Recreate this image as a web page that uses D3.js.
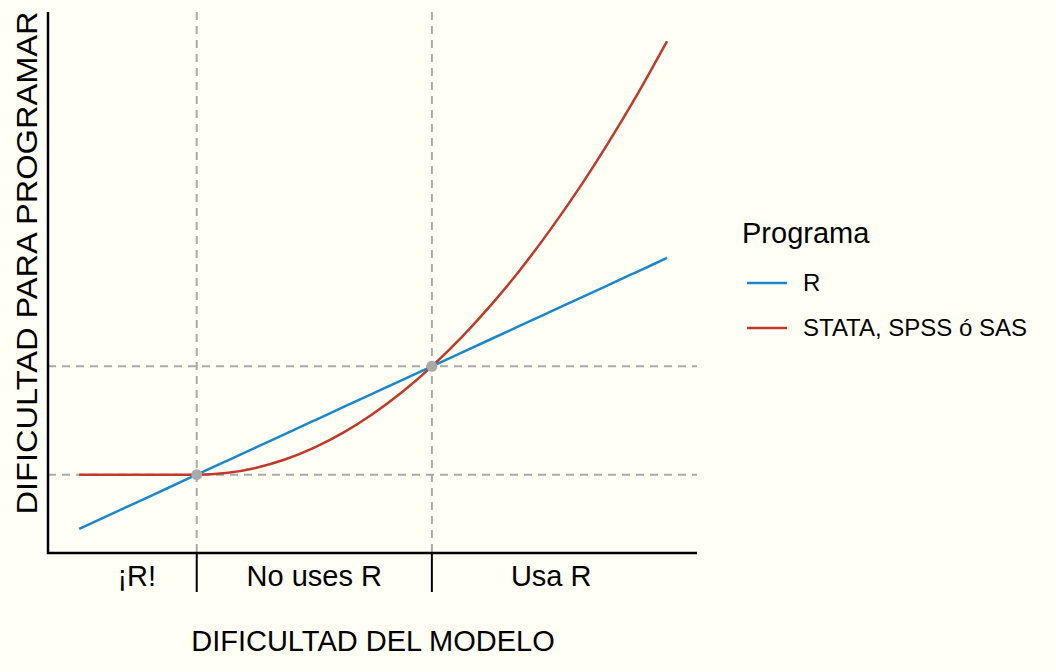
<!DOCTYPE html>
<html><head><meta charset="utf-8">
<script src="https://cdn.jsdelivr.net/npm/d3@7"></script>
<style>body{margin:0;background:#fffff5}text{font-family:"Liberation Sans",Arial,sans-serif;fill:#000}</style>
</head><body><svg id="vis" width="1056" height="672"></svg>
<script>
var xs = [0, 0.5, 1, 1.5, 2, 2.5, 3, 3.5, 4, 4.5, 5, 5.5, 6, 6.5, 7, 7.5, 8, 8.5, 9, 9.5, 10];
var rVals = [0, 0.5, 1, 1.5, 2, 2.5, 3, 3.5, 4, 4.5, 5, 5.5, 6, 6.5, 7, 7.5, 8, 8.5, 9, 9.5, 10];
var otrosVals = [2, 2, 2, 2, 2, 2.06, 2.25, 2.56, 3, 3.56, 4.25, 5.06, 6, 7.06, 8.25, 9.56, 11, 12.56, 14.25, 16.06, 18];
var cortes = [2, 6];
var zonas = ['¡R!', 'No uses R', 'Usa R'];
var zonaX = [0.98, 4, 8.03];
var series = ['R', 'STATA, SPSS ó SAS'];
var colores = ['#1b87c9', '#c0392b'];

var svg = d3.select('#vis');
var x = d3.scaleLinear().domain([-0.53, 10.51]).range([48, 697]);
var y = d3.scaleLinear().domain([-0.89, 19.08]).range([553, 12]);

// dashed guides
cortes.forEach(function(c) {
	svg.append('line').attr('x1', x(c)).attr('x2', x(c)).attr('y1', 12).attr('y2', 553)
		.attr('stroke', '#aaa').attr('stroke-width', 2).attr('stroke-dasharray', '8,6');
	svg.append('line').attr('x1', 48).attr('x2', 697).attr('y1', y(c)).attr('y2', y(c))
		.attr('stroke', '#aaa').attr('stroke-width', 2).attr('stroke-dasharray', '8,6');
	svg.append('line').attr('x1', x(c)).attr('x2', x(c)).attr('y1', 553).attr('y2', 592)
		.attr('stroke', '#000').attr('stroke-width', 2);
});

var line = d3.line().curve(d3.curveMonotoneX)
	.x(function(d) { return x(d[0]); }).y(function(d) { return y(d[1]); });
[rVals, otrosVals].forEach(function(vals, i) {
	svg.append('path').datum(d3.zip(xs, vals)).attr('d', line)
		.attr('fill', 'none').attr('stroke', colores[i]).attr('stroke-width', 2.5);
});

cortes.forEach(function(c) {
	svg.append('circle').attr('cx', x(c)).attr('cy', y(c)).attr('r', 5.5).attr('fill', '#aaa');
});

// axes
svg.append('line').attr('x1', 48).attr('x2', 48).attr('y1', 12).attr('y2', 554).attr('stroke', '#000').attr('stroke-width', 2.5);
svg.append('line').attr('x1', 47).attr('x2', 697).attr('y1', 553).attr('y2', 553).attr('stroke', '#000').attr('stroke-width', 2.5);

zonas.forEach(function(z, i) {
	svg.append('text').attr('x', x(zonaX[i])).attr('y', 586).attr('text-anchor', 'middle')
		.attr('font-size', 29).text(z);
});
svg.append('text').attr('x', 373).attr('y', 651).attr('text-anchor', 'middle').attr('font-size', 29)
	.text('DIFICULTAD DEL MODELO');
svg.append('text').attr('transform', 'translate(37,263) rotate(-90)').attr('text-anchor', 'middle')
	.attr('font-size', 30).attr('textLength', 503).attr('lengthAdjust', 'spacingAndGlyphs')
	.text('DIFICULTAD PARA PROGRAMAR');

// legend
svg.append('text').attr('x', 742).attr('y', 243).attr('font-size', 29).text('Programa');
series.forEach(function(s, i) {
	var yy = 283 + i * 45;
	svg.append('line').attr('x1', 747).attr('x2', 787).attr('y1', yy).attr('y2', yy)
		.attr('stroke', colores[i]).attr('stroke-width', 2.5);
	svg.append('text').attr('x', 803).attr('y', yy + 8).attr('font-size', 24).text(s);
});
</script></body></html>
